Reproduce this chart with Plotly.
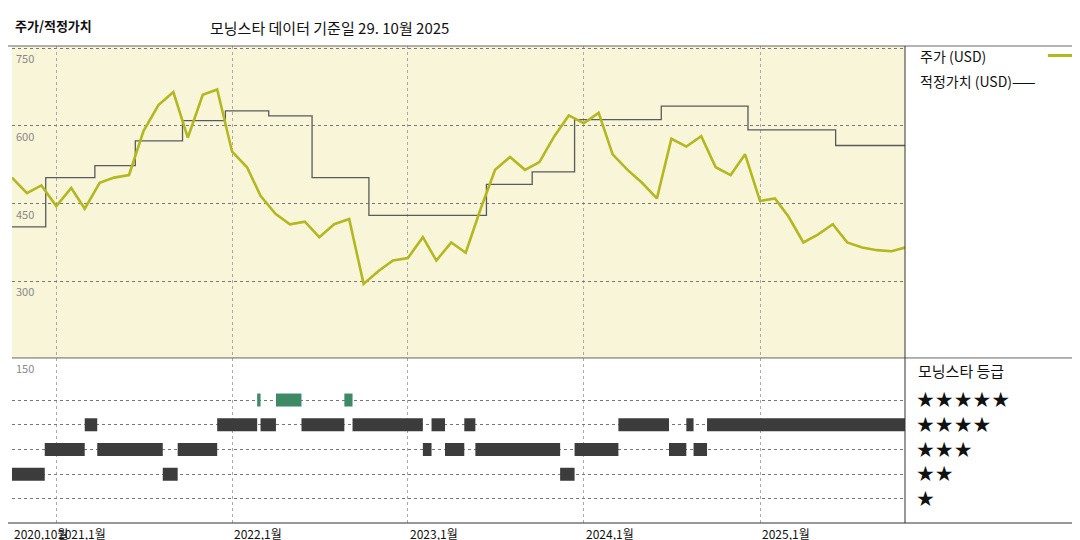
import pandas as pd
import plotly.graph_objects as go

price_dates = list(pd.date_range("2020-10-01", periods=61, freq="MS").strftime("%Y-%m-%d")) + ["2025-10-29"]
price = [500, 470, 485, 445, 480, 440, 490, 500, 505, 590, 640, 665, 577, 660, 670, 550,
         520, 465, 430, 410, 415, 385, 410, 420, 295, 320, 340, 345, 385, 340, 375, 355,
         440, 515, 540, 515, 530, 580, 620, 605, 625, 545, 515, 490, 460, 575, 560, 580,
         520, 505, 545, 455, 460, 425, 375, 390, 410, 375, 365, 360, 358, 365]

fv_dates = ["2020-10-01", "2020-12-10", "2021-03-22", "2021-06-14", "2021-09-20", "2021-12-18",
            "2022-03-18", "2022-06-16", "2022-10-12", "2023-06-13", "2023-09-16", "2023-12-13",
            "2024-06-10", "2024-12-07", "2025-06-07", "2025-10-29"]
fv_values = [405, 500, 523, 571, 610, 629, 619, 500, 427, 487, 511, 612, 638, 592, 562, 562]

rating_dates = ["2020-10-01", "2020-12-08", "2021-03-01", "2021-03-27", "2021-08-10", "2021-09-10",
                "2021-12-01", "2022-02-22", "2022-03-01", "2022-04-02", "2022-05-25", "2022-08-22",
                "2022-09-08", "2023-02-01", "2023-02-19", "2023-03-19", "2023-04-28", "2023-05-21",
                "2023-11-13", "2023-12-13", "2024-03-13", "2024-06-26", "2024-08-01", "2024-08-16",
                "2024-09-13", "2025-10-29"]
ratings = [2, 3, 4, 3, 2, 3, 4, 5, 4, 5, 4, 5, 4, 3, 4, 3, 4, 3, 2, 3, 4, 3, 4, 3, 4]

x_ticks = ["2020-10-01", "2021-01-01", "2022-01-01", "2023-01-01", "2024-01-01", "2025-01-01"]
x_tick_labels = ["2020,10월", "2021,1월", "2022,1월", "2023,1월", "2024,1월", "2025,1월"]
y_ticks = [750, 600, 450, 300]

FONT = "Noto Sans CJK KR"
fig = go.Figure()
fig.add_trace(go.Scatter(x=fv_dates, y=fv_values, mode="lines", line=dict(color="#5a5a5a", width=1.3, shape="hv"),
                         xaxis="x", yaxis="y", hoverinfo="skip"))
fig.add_trace(go.Scatter(x=price_dates, y=price, mode="lines", line=dict(color="#b3b820", width=2.6),
                         xaxis="x", yaxis="y"))

for r, col in [(2, "#3c3c3c"), (3, "#3c3c3c"), (4, "#3c3c3c"), (5, "#3e8a68")]:
    xs, ys = [], []
    for i, v in enumerate(ratings):
        if v == r:
            xs += [rating_dates[i], rating_dates[i + 1], None]
            ys += [v, v, None]
    fig.add_trace(go.Scatter(x=xs, y=ys, mode="lines", line=dict(color=col, width=13),
                             xaxis="x2", yaxis="y2"))

xr = ["2020-10-01", "2025-10-29"]
fig.update_layout(
    width=1080, height=540, showlegend=False,
    margin=dict(l=4, r=183, t=38, b=25, autoexpand=False),
    paper_bgcolor="white", plot_bgcolor="white",
    font=dict(family=FONT, size=12, color="#222"),
    xaxis=dict(domain=[0, 1], range=xr, anchor="y", showticklabels=False, tickvals=x_ticks,
               showgrid=True, gridcolor="#aaa", griddash="dot", gridwidth=1, zeroline=False),
    yaxis=dict(domain=[0.346, 1], range=[152, 754], tickvals=y_ticks, showticklabels=False,
               showgrid=True, gridcolor="#777", griddash="dot", zeroline=False),
    xaxis2=dict(domain=[0, 1], range=xr, anchor="y2", matches="x", showticklabels=False, tickvals=x_ticks,
                showgrid=True, gridcolor="#aaa", griddash="dot", zeroline=False),
    yaxis2=dict(domain=[0, 0.346], range=[0.03, 6.7], tickvals=[1, 2, 3, 4, 5], showticklabels=False,
                showgrid=True, gridcolor="#777", griddash="dot", zeroline=False),
)

shapes = [
    dict(type="rect", xref="x domain", yref="y domain", x0=0, x1=1, y0=0, y1=1,
         fillcolor="#f8f5d9", line_width=0, layer="below"),
    dict(type="line", xref="paper", yref="paper", x0=-0.01, x1=1.3, y0=1, y1=1, line=dict(color="#666", width=1)),
    dict(type="line", xref="paper", yref="paper", x0=0, x1=1.3, y0=0.346, y1=0.346, line=dict(color="#666", width=1)),
    dict(type="line", xref="paper", yref="paper", x0=-0.01, x1=1.3, y0=0, y1=0, line=dict(color="#333", width=1.2)),
    dict(type="line", xref="paper", yref="paper", x0=1, x1=1, y0=0, y1=1, line=dict(color="#333", width=1)),
    dict(type="line", xref="paper", yref="paper", x0=1.16, x1=1.197, y0=0.98, y1=0.98, line=dict(color="#b3b820", width=3)),
]
fig.update_layout(shapes=shapes)

ann = [
    dict(text="<b>주가/적정가치</b>", x=5, y=17, size=13),
    dict(text="모닝스타 데이터 기준일 29. 10월 2025", x=200, y=19, size=15),
    dict(text="주가 (USD)", x=910, y=48, size=14),
    dict(text="적정가치 (USD)——", x=910, y=73, size=14),
    dict(text="모닝스타 등급", x=908, y=362, size=15),
]
annotations = []
for a in ann:
    annotations.append(dict(text=a["text"], xref="paper", yref="paper",
                            x=(a["x"] - 4) / 893, y=1 - (a["y"] - 38) / 477,
                            xanchor="left", yanchor="middle", showarrow=False,
                            font=dict(size=a["size"], family=FONT, color="#111")))
for i, s in enumerate(["★★★★★", "★★★★", "★★★", "★★", "★"]):
    annotations.append(dict(text=s, xref="paper", yref="y2", x=(906 - 4) / 893, y=5 - i,
                            xanchor="left", yanchor="middle", showarrow=False,
                            font=dict(size=21, family="DejaVu Sans", color="#111")))
for v in y_ticks:
    annotations.append(dict(text=str(v), xref="paper", yref="y", x=0.002, y=v, xanchor="left", yanchor="top",
                            showarrow=False, font=dict(size=11, color="#888")))
annotations.append(dict(text="150", xref="paper", yref="paper", x=0.002, y=0.346, xanchor="left", yanchor="top",
                        showarrow=False, font=dict(size=11, color="#888")))
for t, l in zip(x_ticks, x_tick_labels):
    annotations.append(dict(text=l, xref="x2", yref="paper", x=t, y=0, xanchor="left", yanchor="top",
                            showarrow=False, font=dict(size=12, color="#111")))
fig.update_layout(annotations=annotations)

fig.write_html("out.html")
